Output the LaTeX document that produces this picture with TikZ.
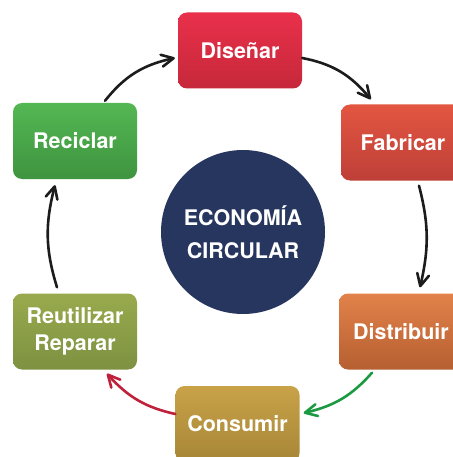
\documentclass[tikz,border=0pt]{standalone}
\usepackage{fontspec}
\setmainfont{TeX Gyre Heros}
\usetikzlibrary{arrows.meta,bending}
\definecolor{disT}{HTML}{E9304B}
\definecolor{disB}{HTML}{C6283A}
\definecolor{fabT}{HTML}{E35641}
\definecolor{fabB}{HTML}{BE3F38}
\definecolor{dstT}{HTML}{E2824A}
\definecolor{dstB}{HTML}{B65F31}
\definecolor{conT}{HTML}{C9A248}
\definecolor{conB}{HTML}{A68637}
\definecolor{reuT}{HTML}{99AA4D}
\definecolor{reuB}{HTML}{7D9141}
\definecolor{recT}{HTML}{53B753}
\definecolor{recB}{HTML}{3F943F}
\definecolor{circ}{HTML}{27365F}
\definecolor{arrK}{HTML}{1C1C1C}
\definecolor{arrG}{HTML}{1B9A42}
\definecolor{arrR}{HTML}{C0213A}
\begin{document}
\begin{tikzpicture}[x=1pt,y=-1pt,
  stepbox/.style={rounded corners=9pt, minimum width=124pt, minimum height=76pt,
    text=white, font=\bfseries\fontsize{21.5}{27}\selectfont, align=center, inner sep=0pt},
  flow/.style={line width=2.6pt, line cap=round, line join=round,
    -{Straight Barb[length=12pt,width=12pt,line cap=round,line join=round,flex]}}]
\useasboundingbox (0,0) rectangle (452,457);
\node[stepbox, top color=disT, bottom color=disB] (dis) at (240,50.5) {Diseñar};
\node[stepbox, top color=fabT, bottom color=fabB] (fab) at (403,142.5) {Fabricar};
\node[stepbox, top color=dstT, bottom color=dstB] (dst) at (401,331.5) {Distribuir};
\node[stepbox, top color=conT, bottom color=conB] (con) at (237.5,424) {Consumir};
\node[stepbox, top color=reuT, bottom color=reuB] (reu) at (75,331.5) {Reutilizar\\Reparar};
\node[stepbox, top color=recT, bottom color=recB] (rec) at (75,141) {Reciclar};
\node[circle, fill=circ, minimum size=164pt, inner sep=0pt, text=white,
  font=\bfseries\fontsize{21.5}{33}\selectfont, align=center] (eco) at (243,232) {ECONOMÍA\\CIRCULAR};
\draw[flow, draw=arrK] ([yshift=-7.5pt]dis.east) to[bend left=20] ([xshift=30pt,yshift=5pt]fab.north west);
\draw[flow, draw=arrK] ([xshift=16pt,yshift=-5pt]fab.south) to[bend left=14] ([xshift=19pt,yshift=6pt]dst.north);
\draw[flow, draw=arrG] ([xshift=-29pt,yshift=-3pt]dst.south) to[bend left=18] ([xshift=4pt,yshift=11pt]con.east);
\draw[flow, draw=arrR] ([yshift=10pt]con.west) to[bend left=18] ([xshift=32pt,yshift=-4pt]reu.south);
\draw[flow, draw=arrK] ([xshift=-18pt,yshift=6pt]reu.north) to[bend left=16] ([xshift=-20pt,yshift=-6pt]rec.south);
\draw[flow, draw=arrK] ([xshift=30pt,yshift=2pt]rec.north) to[bend left=20] ([xshift=-3pt,yshift=-7.5pt]dis.west);
\end{tikzpicture}
\end{document}
